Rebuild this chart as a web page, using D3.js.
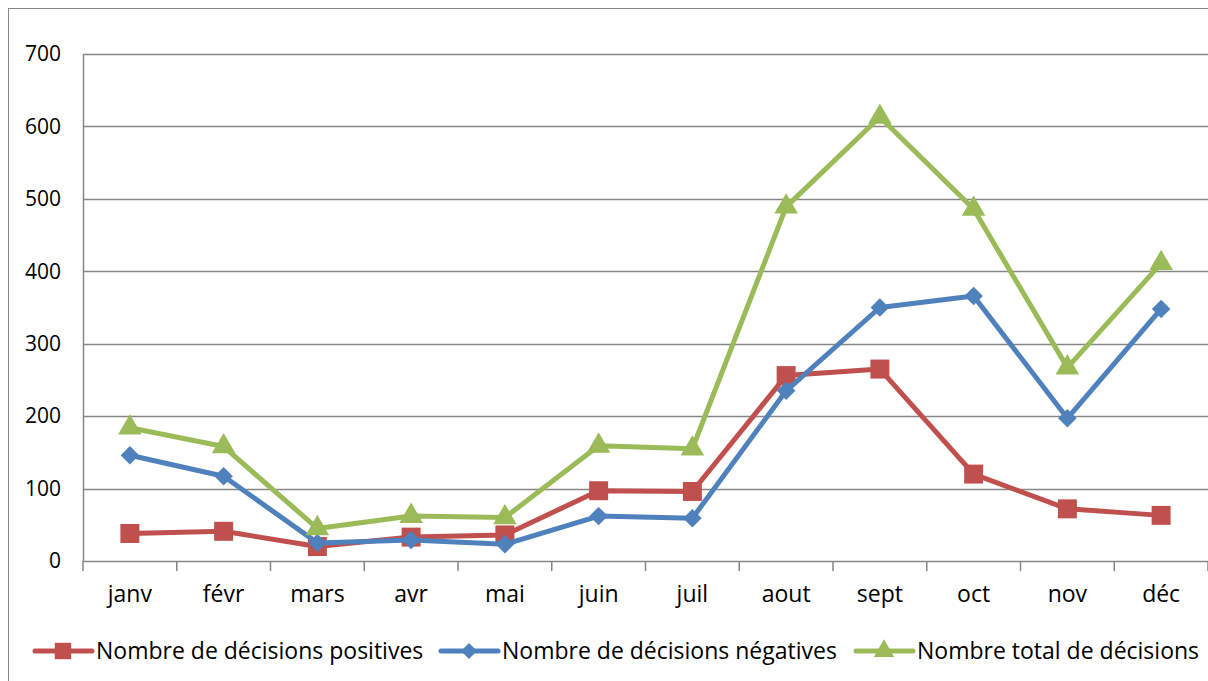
<!DOCTYPE html>
<html>
<head>
<meta charset="utf-8">
<script src="https://cdn.jsdelivr.net/npm/d3@7"></script>
<style>
  body { margin: 0; background: #fff; }
  svg { display: block; font-family: "Open Sans", sans-serif; }
</style>
</head>
<body>
<div id="chart"></div>
<script>
// Data
var months = ["janv", "févr", "mars", "avr", "mai", "juin", "juil", "aout", "sept", "oct", "nov", "déc"];
var positives = [38, 41, 20, 33, 36, 97, 96, 256, 265, 120, 72, 63];
var negatives = [146, 117, 25, 29, 23, 62, 59, 235, 350, 366, 197, 348];
var totals = [184, 158, 45, 62, 60, 159, 155, 489, 613, 486, 267, 411];
var yTicks = [0, 100, 200, 300, 400, 500, 600, 700];
var seriesNames = ["Nombre de décisions positives", "Nombre de décisions négatives", "Nombre total de décisions"];

var W = 1208, H = 681;
var FONT = "Open Sans, sans-serif";
var margin = {top: 54, right: 0, bottom: 120, left: 83},
    width = W - margin.left - margin.right,
    height = H - margin.top - margin.bottom;

var series = [
    {name: seriesNames[0], values: positives, color: "#C0504D", shape: "square"},
    {name: seriesNames[1], values: negatives, color: "#4F81BD", shape: "diamond"},
    {name: seriesNames[2], values: totals, color: "#9BBB59", shape: "triangle"}
];

var svg = d3.select("#chart").append("svg")
    .attr("width", W)
    .attr("height", H);

// outer chart border
svg.append("rect")
    .attr("x", 8.5).attr("y", 8.5)
    .attr("width", W + 10).attr("height", H + 10)
    .attr("fill", "none")
    .attr("stroke", "#868686")
    .attr("stroke-width", 1);

var g = svg.append("g")
    .attr("transform", "translate(" + margin.left + "," + margin.top + ")");

var x = d3.scaleBand().domain(months).range([0, width]);
var y = d3.scaleLinear().domain([0, 700]).range([height, 0]);

// grid lines
g.selectAll(".grid")
    .data(yTicks.slice(1))
    .enter().append("line")
    .attr("x1", 0).attr("x2", width)
    .attr("y1", d => Math.round(y(d)) + 0.5)
    .attr("y2", d => Math.round(y(d)) + 0.5)
    .attr("stroke", "#868686")
    .attr("stroke-width", 1.5);

// y axis
var yAxis = g.append("g")
    .call(d3.axisLeft(y).tickValues(yTicks).tickSize(0).tickPadding(22));
yAxis.select(".domain").attr("stroke", "#868686").attr("stroke-width", 1.5);
yAxis.selectAll("text")
    .attr("font-size", "21px")
    .attr("fill", "#000")
    .style("font-family", FONT);

// x axis
var xAxis = g.append("g")
    .attr("transform", "translate(0," + height + ")")
    .call(d3.axisBottom(x).tickSize(0).tickPadding(25));
xAxis.select(".domain").attr("stroke", "#868686").attr("stroke-width", 1.5);
xAxis.selectAll("text")
    .attr("font-size", "23px")
    .attr("fill", "#000")
    .style("font-family", FONT);

// category tick marks between bands
var bounds = months.map((m, i) => i).concat([months.length]);
g.selectAll(".xtick")
    .data(bounds)
    .enter().append("line")
    .attr("x1", d => d * x.step())
    .attr("x2", d => d * x.step())
    .attr("y1", height)
    .attr("y2", height + 10)
    .attr("stroke", "#868686")
    .attr("stroke-width", 1.5);

function marker(shape, scale) {
    scale = scale || 1;
    if (shape === "square") return d3.symbol().type(d3.symbolSquare).size(360 * scale)();
    if (shape === "diamond") return d3.symbol().type(d3.symbolSquare).size(170 * scale)();
    return d3.symbol().type(d3.symbolTriangle).size(240 * scale)();
}
function rot(shape) { return shape === "diamond" ? " rotate(45)" : ""; }

var line = d3.line()
    .x((d, i) => x(months[i]) + x.bandwidth() / 2)
    .y(d => y(d));

series.forEach(function(s) {
    var sg = g.append("g");
    sg.append("path")
        .datum(s.values)
        .attr("d", line)
        .attr("fill", "none")
        .attr("stroke", s.color)
        .attr("stroke-width", 5)
        .attr("stroke-linejoin", "round")
        .attr("stroke-linecap", "round");
    sg.selectAll(".pt")
        .data(s.values)
        .enter().append("path")
        .attr("d", marker(s.shape))
        .attr("transform", (d, i) => "translate(" + (x(months[i]) + x.bandwidth() / 2) + "," + y(d) + ")" + rot(s.shape))
        .attr("fill", s.color);
});

// legend
var legendX = [35, 441, 856];
var legend = svg.selectAll(".legend")
    .data(series)
    .enter().append("g")
    .attr("transform", (d, i) => "translate(" + legendX[i] + ",651)");

legend.append("line")
    .attr("x1", 0).attr("x2", 57)
    .attr("y1", 0).attr("y2", 0)
    .attr("stroke", d => d.color)
    .attr("stroke-width", 5)
    .attr("stroke-linecap", "round");

legend.append("path")
    .attr("d", d => marker(d.shape, 0.75))
    .attr("transform", d => "translate(28,0)" + rot(d.shape))
    .attr("fill", d => d.color);

legend.append("text")
    .attr("x", 61)
    .attr("y", 8)
    .attr("font-size", "23px")
    .attr("fill", "#000")
    .text(d => d.name);
</script>
</body>
</html>
